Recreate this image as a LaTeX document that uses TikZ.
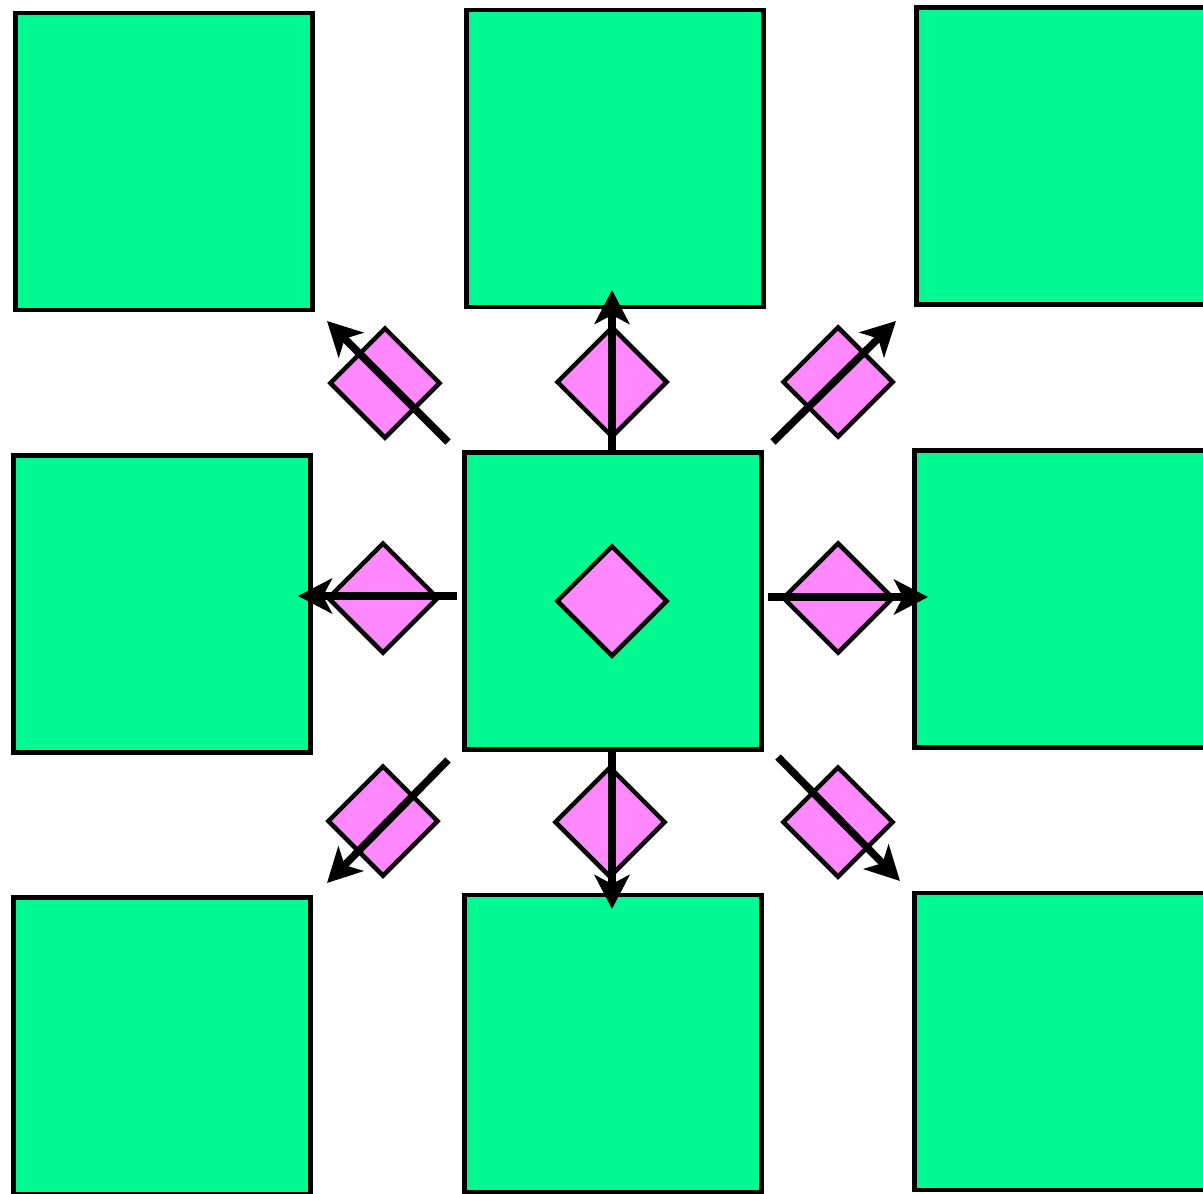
\documentclass[tikz,border=0pt]{standalone}
\usetikzlibrary{shapes.geometric,arrows.meta}
\definecolor{boxgreen}{RGB}{0,250,146}
\definecolor{diapink}{RGB}{255,136,255}
\tikzset{
  gbox/.style={draw=black, fill=boxgreen, line width=4.5pt, minimum size=297pt, inner sep=0pt, shape=rectangle},
  pdia/.style={draw=black, fill=diapink, line width=4.5pt, shape=diamond, aspect=1, minimum width=111pt, minimum height=111pt, inner sep=0pt},
  flow/.style={draw=black, line width=7.5pt, -{Stealth[length=34pt, width=35pt, inset=9pt]}}
}
\begin{document}
\begin{tikzpicture}[x=1pt,y=-1pt]
\useasboundingbox (0,0) rectangle (1203,1194);
\clip (0,0) rectangle (1203,1194);
% squares
\node[gbox] (tl) at (164,161.5) {};
\node[gbox] (tm) at (615,158.5) {};
\node[gbox] (tr) at (1065,156) {};
\node[gbox] (ml) at (162,604) {};
\node[gbox] (c)  at (613,601) {};
\node[gbox] (mr) at (1063,599) {};
\node[gbox] (bl) at (162,1046) {};
\node[gbox] (bm) at (613,1043.5) {};
\node[gbox] (br) at (1063,1041.5) {};
% diamonds
\node[pdia] (dc)  at (612,601) {};
\node[pdia] (dt)  at (612,382) {};
\node[pdia] (dl)  at (383,598) {};
\node[pdia] (dr)  at (838,598) {};
\node[pdia] (db)  at (610,822) {};
\node[pdia] (dtl) at (385,383) {};
\node[pdia] (dtr) at (838,382) {};
\node[pdia] (dbl) at (383,821) {};
\node[pdia] (dbr) at (838,822) {};
% arrow endpoints
\coordinate (sT) at (612,451);  \coordinate (eT) at (612,290);
\coordinate (sL) at (457,596);  \coordinate (eL) at (298,596);
\coordinate (sR) at (768,597);  \coordinate (eR) at (928,597);
\coordinate (sB) at (612,751);  \coordinate (eB) at (612,909);
\coordinate (sTL) at (448,442); \coordinate (eTL) at (327,321);
\coordinate (sTR) at (773,442); \coordinate (eTR) at (896,321);
\coordinate (sBL) at (448,760); \coordinate (eBL) at (327,883);
\coordinate (sBR) at (778,757); \coordinate (eBR) at (900,881);
% arrows
\draw[flow] (sT) -- (eT);
\draw[flow] (sL) -- (eL);
\draw[flow] (sR) -- (eR);
\draw[flow] (sB) -- (eB);
\draw[flow] (sTL) -- (eTL);
\draw[flow] (sTR) -- (eTR);
\draw[flow] (sBL) -- (eBL);
\draw[flow] (sBR) -- (eBR);
\end{tikzpicture}
\end{document}
